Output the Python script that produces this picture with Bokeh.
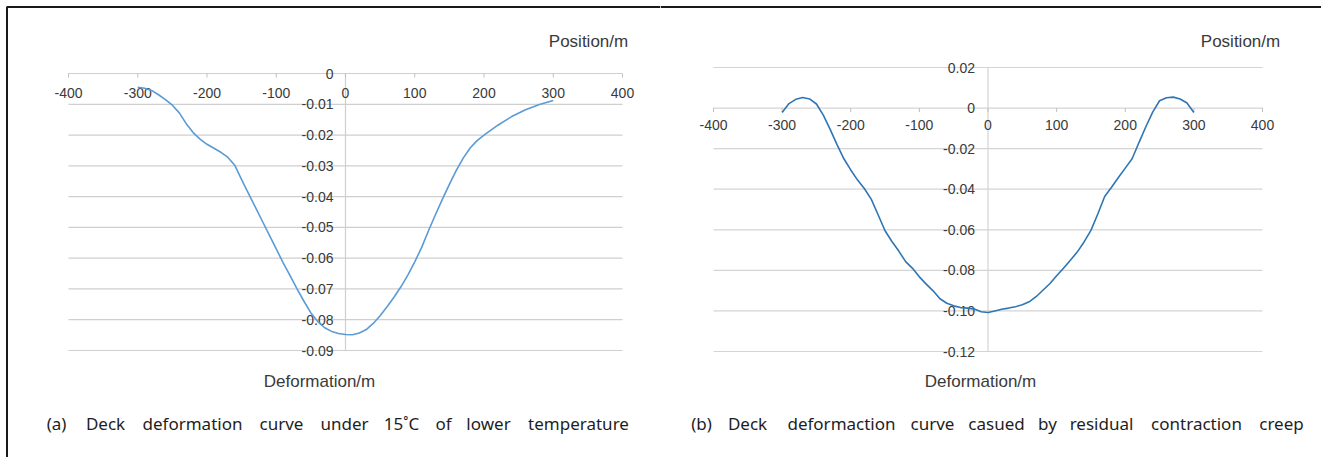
from bokeh.plotting import figure
from bokeh.layouts import row
from bokeh.models import Range1d
from bokeh.core.properties import value
from bokeh.embed import file_html
from bokeh.resources import INLINE

# ---------------- data ----------------
x_ticks = [-400, -300, -200, -100, 0, 100, 200, 300, 400]
x_tick_labels = ["-400", "-300", "-200", "-100", "0", "100", "200", "300", "400"]

# (a) lower temperature
pos_a = [-300, -290, -280, -270, -260, -250, -240, -230, -220, -210, -200, -190, -180, -170,
         -160, -150, -140, -130, -120, -110, -100, -90, -80, -70, -60, -50, -40, -30, -20, -10,
         0, 10, 20, 30, 40, 50, 60, 70, 80, 90, 100, 110, 120, 130, 140, 150, 160, 170, 180,
         190, 200, 220, 240, 260, 280, 300]
def_a = [-0.0045, -0.0048, -0.0055, -0.0069, -0.0085, -0.0103, -0.0128, -0.0163, -0.0192,
         -0.0213, -0.0230, -0.0243, -0.0256, -0.0272, -0.0298, -0.0345, -0.0390, -0.0435,
         -0.0480, -0.0525, -0.0570, -0.0615, -0.0657, -0.0700, -0.0740, -0.0778, -0.0806,
         -0.0826, -0.0838, -0.0845, -0.0848, -0.0849, -0.0843, -0.0832, -0.0812, -0.0787,
         -0.0758, -0.0727, -0.0693, -0.0655, -0.0612, -0.0565, -0.0510, -0.0458, -0.0408,
         -0.0360, -0.0315, -0.0275, -0.0242, -0.0218, -0.0200, -0.0168, -0.0140, -0.0118,
         -0.0101, -0.0088]
y_ticks_a = [0, -0.01, -0.02, -0.03, -0.04, -0.05, -0.06, -0.07, -0.08, -0.09]
y_tick_labels_a = ["0", "-0.01", "-0.02", "-0.03", "-0.04", "-0.05", "-0.06", "-0.07",
                   "-0.08", "-0.09"]

# (b) residual contraction creep
pos_b = [-300, -290, -280, -270, -260, -250, -240, -230, -220, -210, -200, -190, -180, -170,
         -160, -150, -140, -130, -120, -110, -100, -90, -80, -70, -60, -50, -40, -30, -20, -10,
         0, 10, 20, 30, 40, 50, 60, 70, 80, 90, 100, 110, 120, 130, 140, 150, 160, 170, 180,
         190, 200, 210, 220, 230, 240, 250, 260, 270, 280, 290, 300]
def_b = [-0.0022, 0.0022, 0.0043, 0.0052, 0.0045, 0.0020, -0.0035, -0.0105, -0.0180, -0.0250,
         -0.0305, -0.0355, -0.0398, -0.0450, -0.0527, -0.0605, -0.0658, -0.0705, -0.0757,
         -0.0790, -0.0832, -0.0868, -0.0901, -0.0940, -0.0962, -0.0975, -0.0983, -0.0986,
         -0.0991, -0.1004, -0.1008, -0.1000, -0.0992, -0.0986, -0.0979, -0.0970, -0.0955,
         -0.0930, -0.0898, -0.0866, -0.0827, -0.0790, -0.0750, -0.0710, -0.0660, -0.0603,
         -0.0522, -0.0436, -0.0390, -0.0342, -0.0296, -0.0250, -0.0170, -0.0092, -0.0020,
         0.0036, 0.0051, 0.0054, 0.0045, 0.0025, -0.0022]
y_ticks_b = [0.02, 0, -0.02, -0.04, -0.06, -0.08, -0.10, -0.12]
y_tick_labels_b = ["0.02", "0", "-0.02", "-0.04", "-0.06", "-0.08", "-0.10", "-0.12"]

x_title = "Position/m"
y_title = "Deformation/m"
caption_a = ["(a)", "Deck", "deformation", "curve", "under", "15˚C", "of", "lower", "temperature"]
caption_a_pos = [56, 105, 192, 281, 344, 401, 443, 488, 578]
caption_b = ["(b)", "Deck", "deformaction", "curve", "casued", "by", "residual", "contraction", "creep"]
caption_b_pos = [701, 747, 841, 932, 996, 1047, 1101, 1196, 1281]

# ---------------- layout ----------------
H = 457
TICK_FONT = "Liberation Sans"
CAP_FONT = "Noto Sans"
TXT = "#3a3a3a"


def make_panel(width, offset, xp0, xp1, ytop_val, ytop_px, ybot_val, ybot_px):
    sx = (xp1 - xp0) / (x_ticks[-1] - x_ticks[0])
    x_start = x_ticks[0] - (xp0 - offset) / sx
    x_end = x_start + width / sx
    sy = (ybot_px - ytop_px) / (ytop_val - ybot_val)
    y_end = ytop_val + ytop_px / sy
    y_start = y_end - H / sy
    p = figure(width=width, height=H, x_range=Range1d(x_start, x_end),
               y_range=Range1d(y_start, y_end), output_backend="svg",
               toolbar_location=None, x_axis_location=None, y_axis_location=None,
               min_border=0, outline_line_color=None)
    p.grid.visible = False
    p.background_fill_color = "white"
    p.border_fill_color = "white"

    def px2x(px):
        return x_start + (px - offset) / sx

    def px2y(py):
        return y_end - py / sy

    return p, sx, sy, px2x, px2y


def draw_chart(p, sx, sy, px2x, px2y, pos, dfm, y_ticks, y_labels, line_color,
               grid_color, ylab_gap, xlab_gap, x_title_px, y_title_px, cap_words, cap_pos):
    n = len(y_ticks)
    # gridlines
    p.segment(x0=[x_ticks[0]] * n, y0=y_ticks, x1=[x_ticks[-1]] * n, y1=y_ticks,
              line_color=grid_color, line_width=1.2)
    # vertical axis line at x = 0
    p.segment(x0=[0], y0=[y_ticks[0]], x1=[0], y1=[y_ticks[-1]],
              line_color=grid_color, line_width=1.2)
    # tick marks on horizontal axis (y = 0)
    m = len(x_ticks)
    p.segment(x0=x_ticks, y0=[0] * m, x1=x_ticks, y1=[-4 / sy] * m,
              line_color="#bfbfbf", line_width=1)
    # x tick labels
    p.text(x=x_ticks, y=[-xlab_gap / sy] * m, text=x_tick_labels, text_align="center",
           text_baseline="middle", text_font=value(TICK_FONT), text_font_size="14px",
           text_color=TXT)
    # y tick labels
    p.text(x=[-ylab_gap / sx] * n, y=y_ticks, text=y_labels, text_align="right",
           text_baseline="middle", text_font=value(TICK_FONT), text_font_size="14px",
           text_color=TXT)
    # curve
    p.line(pos, dfm, line_color=line_color, line_width=1.6)
    # axis titles
    p.text(x=[px2x(x_title_px)], y=[px2y(41)], text=[x_title], text_align="center",
           text_baseline="middle", text_font=value(TICK_FONT), text_font_size="17px",
           text_color=TXT)
    p.text(x=[px2x(y_title_px)], y=[px2y(381)], text=[y_title], text_align="center",
           text_baseline="middle", text_font=value(TICK_FONT), text_font_size="17px",
           text_color=TXT)
    # caption
    p.text(x=[px2x(c) for c in cap_pos], y=[px2y(423)] * len(cap_words), text=cap_words,
           text_align="center", text_baseline="middle", text_font=value(CAP_FONT),
           text_font_size="17px", text_color="#1e1e1e")


p1, sx1, sy1, px2x1, px2y1 = make_panel(660, 0, 68, 622, 0.0, 73, -0.09, 350)
draw_chart(p1, sx1, sy1, px2x1, px2y1, pos_a, def_a, y_ticks_a, y_tick_labels_a,
           "#5b9bd5", "#cfcfcf", 12, 19, 588, 319, caption_a, caption_a_pos)
# frame lines (top and left)
p1.line(x=[px2x1(6.5), px2x1(6.5), px2x1(660)], y=[px2y1(457), px2y1(6.5), px2y1(6.5)],
        line_color="#1a1a1a", line_width=2)

p2, sx2, sy2, px2x2, px2y2 = make_panel(661, 660, 713, 1262, 0.02, 67, -0.12, 351)
draw_chart(p2, sx2, sy2, px2x2, px2y2, pos_b, def_b, y_ticks_b, y_tick_labels_b,
           "#2e75b6", "#d4d4d4", 13, 17, 1240, 980, caption_b, caption_b_pos)
p2.line(x=[px2x2(660), px2x2(1321)], y=[px2y2(6.5), px2y2(6.5)],
        line_color="#1a1a1a", line_width=2)

layout = row(p1, p2)
open("out.html", "w").write(file_html(layout, INLINE))
